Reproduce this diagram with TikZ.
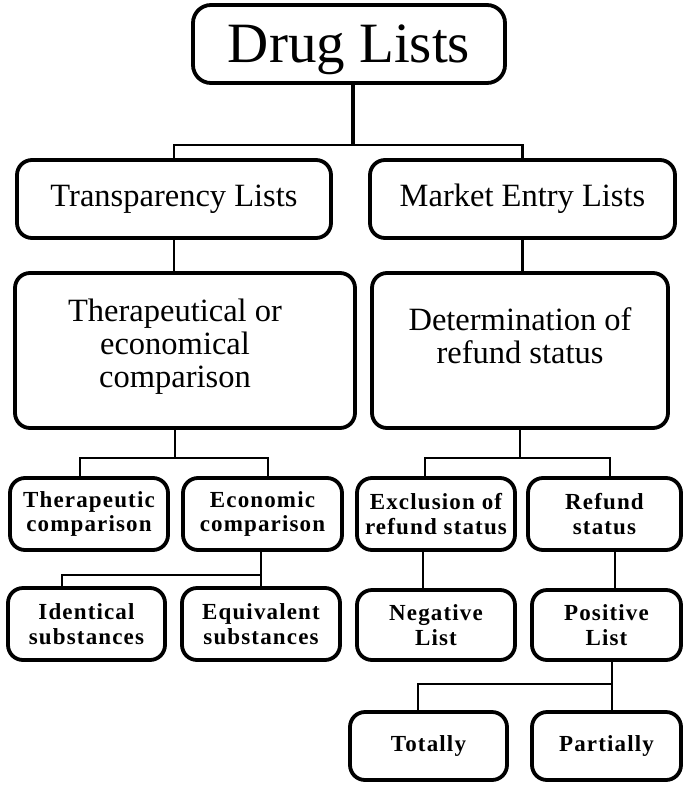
\documentclass[tikz,border=0pt]{standalone}
\usepackage{fontspec}
\setmainfont{Liberation Serif}
\newfontfamily\lowfont{Liberation Serif}[LetterSpace=5]
\begin{document}
\begin{tikzpicture}[x=1pt,y=-1pt]
\tikzset{
  box/.style={draw, line width=3.8pt, rounded corners=15pt, inner sep=0pt, align=center},
  link/.style={line width=2.6pt},
  bigtxt/.style={font=\fontsize{57}{60}\selectfont},
  midtxt/.style={font=\fontsize{32.5}{36}\selectfont},
  lefttxt/.style={font=\fontsize{32.5}{33}\selectfont},
  righttxt/.style={font=\fontsize{32.5}{33}\selectfont},
  lowtxt/.style={font=\lowfont\bfseries\fontsize{23}{24.5}\selectfont},
}
\useasboundingbox (0,0) rectangle (683,785);

% top
\node[box, bigtxt, rounded corners=18pt, text depth=0pt, minimum width=312pt, minimum height=78pt] (drug) at (349,44) {Drug Lists};

% second level
\node[box, midtxt, minimum width=314pt, minimum height=78pt] (trans) at (174,199) {Transparency Lists};
\node[box, midtxt, minimum width=305pt, minimum height=78pt] (market) at (522.5,199) {Market Entry Lists};

% third level
\node[box, minimum width=340pt, minimum height=155pt] (ther) at (185,350.5) {};
\node[lefttxt, align=center] (thertxt) at (175,347) {Therapeutical or\\economical\\comparison};
\node[box, minimum width=296pt, minimum height=155pt] (determ) at (520,350.5) {};
\node[righttxt, align=center] (determtxt) at (520,336) {Determination of\\refund status};

% fourth level
\node[box, lowtxt, minimum width=158pt, minimum height=72pt] (thc) at (89,514) {Therapeutic\\comparison};
\node[box, lowtxt, minimum width=159pt, minimum height=72pt] (eco) at (262.5,514) {Economic\\comparison};
\node[box, lowtxt, minimum width=158pt, minimum height=72pt] (excl) at (436,514) {Exclusion of\\refund status};
\node[box, lowtxt, minimum width=153pt, minimum height=72pt] (refund) at (604.5,514) {Refund\\status};

% fifth level
\node[box, lowtxt, minimum width=157pt, minimum height=72pt] (ident) at (86.5,624) {Identical\\substances};
\node[box, lowtxt, minimum width=158pt, minimum height=72pt] (equiv) at (261,624) {Equivalent\\substances};
\node[box, lowtxt, minimum width=158pt, minimum height=70pt] (neg) at (436,625) {Negative\\List};
\node[box, lowtxt, minimum width=149pt, minimum height=70pt] (pos) at (606.5,625) {Positive\\List};

% sixth level
\node[box, lowtxt, minimum width=157pt, minimum height=68pt] (totally) at (428.5,746) {Totally};
\node[box, lowtxt, minimum width=149pt, minimum height=68pt] (partially) at (606.5,746) {Partially};

% junction points of the tree
\coordinate (j1) at (353,145);
\coordinate (j2) at (175,458);
\coordinate (j3) at (520,458);
\coordinate (j4) at (261,575);
\coordinate (j5) at (612,684);
\coordinate (xthc) at (80,0);
\coordinate (xeco) at (268,0);
\coordinate (xexcl) at (425,0);
\coordinate (xref) at (610,0);
\coordinate (xident) at (62,0);
\coordinate (xneg) at (423,0);
\coordinate (xpos) at (615,0);
\coordinate (xtot) at (418,0);

% connectors
\draw[link, line width=3.6pt] (drug.south -| j1) -- (j1);
\draw[link] (trans.north) |- (j1) -| (market.north);
\draw[link] (trans.south) -- (ther.north -| trans.south);
\draw[link] (market.south) -- (determ.north -| market.south);

\draw[link] (ther.south -| j2) -- (j2);
\draw[link] (thc.north -| xthc) |- (j2) -| (eco.north -| xeco);
\draw[link] (determ.south -| j3) -- (j3);
\draw[link] (excl.north -| xexcl) |- (j3) -| (refund.north -| xref);

\draw[link] (eco.south -| j4) -- (equiv.north -| j4);
\draw[link] (j4) -| (ident.north -| xident);
\draw[link] (excl.south -| xneg) -- (neg.north -| xneg);
\draw[link] (refund.south -| xpos) -- (pos.north -| xpos);

\draw[link] (pos.south -| j5) -- (partially.north -| j5);
\draw[link] (j5) -| (totally.north -| xtot);
\end{tikzpicture}
\end{document}
